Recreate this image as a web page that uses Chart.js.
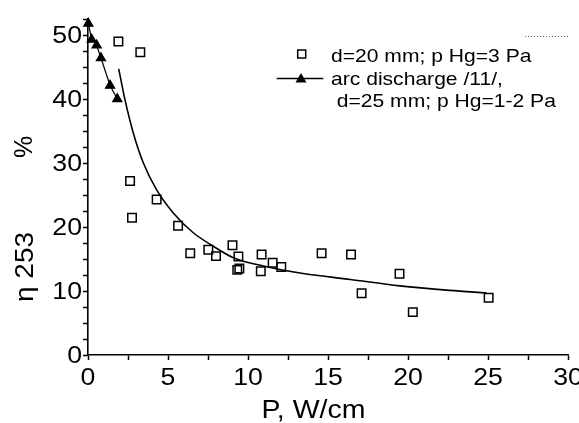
<!DOCTYPE html>
<html lang="en">
<head>
    <meta charset="UTF-8">
    <title>eta 253 vs P</title>
    <script src="https://cdn.jsdelivr.net/npm/chart.js"></script>
    <style>
        body {
            margin: 0;
            padding: 0;
            background-color: #ffffff;
        }
        canvas {
            display: block;
        }
    </style>
</head>
<body>
    <canvas id="grafico" width="579" height="423"></canvas>

    <script>
        // datos leidos del grafico
        // cuadrados: d=20 mm; p Hg=3 Pa
        const potenciaD20 = [1.9, 3.27, 2.63, 4.29, 2.75, 5.63, 6.39, 7.52, 8.0, 9.03, 9.4, 9.33, 9.46, 10.85, 10.8, 11.54, 12.08, 14.6, 16.44, 17.1, 19.47, 20.3, 25.04];
        const etaD20 = [49.0, 47.3, 27.2, 24.3, 21.45, 20.2, 15.9, 16.45, 15.45, 17.15, 15.4, 13.3, 13.5, 15.7, 13.1, 14.4, 13.75, 15.9, 15.7, 9.65, 12.7, 6.7, 8.95];

        // triangulos: arc discharge /11/, d=25 mm
        const potenciaArco = [0.02, 0.23, 0.54, 0.81, 1.38, 1.83];
        const etaArco = [51.8, 49.3, 48.4, 46.4, 42.1, 40.0];

        const potenciaCurva = [1.92, 2.31, 2.83, 3.46, 4.29, 5.33, 6.58, 7.83, 9.08, 11.17, 13.25, 16.4, 19.5, 22.6, 24.9];
        const etaCurva = [44.7, 39.9, 34.7, 30.0, 25.8, 22.2, 19.1, 17.0, 15.2, 13.8, 12.8, 11.8, 10.8, 10.1, 9.7];

        const etiquetasX = [0, 5, 10, 15, 20, 25, 30];
        const etiquetasY = [0, 10, 20, 30, 40, 50];

        const leyenda = ['d=20 mm; p Hg=3 Pa', 'arc discharge /11/,', 'd=25 mm; p Hg=1-2 Pa'];
        const tituloX = 'P, W/cm';
        const tituloY = 'η 253';
        const unidadY = '%';

        const fuente = "'Liberation Sans', Arial, sans-serif";

        function pares(xs, ys) {
            return xs.map((x, i) => ({ x: x, y: ys[i] }));
        }

        // texto un poco ensanchado, como en la figura original
        function textoAncho(c, txt, x, y, align, sx, rot) {
            c.save();
            c.translate(x, y);
            if (rot) c.rotate(rot);
            c.scale(sx, 1);
            c.textAlign = align;
            c.fillText(txt, 0, 0);
            c.restore();
        }

        const textos = {
            id: 'textos',
            afterDraw(chart) {
                const c = chart.ctx;
                const sx = chart.scales.x;
                const sy = chart.scales.y;
                c.save();
                c.fillStyle = '#000';

                // etiquetas de los ejes
                c.font = '23px ' + fuente;
                c.textBaseline = 'middle';
                etiquetasY.forEach(v => {
                    textoAncho(c, String(v), sy.right - 6, sy.getPixelForValue(v) + 2, 'right', 1.16);
                });
                etiquetasX.forEach(v => {
                    textoAncho(c, String(v), sx.getPixelForValue(v), sx.top + 24, 'center', 1.16);
                });

                // titulos
                c.textBaseline = 'alphabetic';
                c.font = '25px ' + fuente;
                textoAncho(c, tituloX, 313.5, 418, 'center', 1.14);
                textoAncho(c, tituloY, 33, 302, 'left', 1.12, -Math.PI / 2);
                textoAncho(c, unidadY, 32, 158, 'left', 1.0, -Math.PI / 2);

                // leyenda
                c.strokeStyle = '#000';
                c.lineWidth = 1.5;
                c.strokeRect(297.7, 50, 8, 8);
                c.beginPath();
                c.moveTo(276.7, 78.5);
                c.lineTo(323.3, 78.5);
                c.stroke();
                c.beginPath();
                c.moveTo(301, 73);
                c.lineTo(306.5, 82.5);
                c.lineTo(295.5, 82.5);
                c.closePath();
                c.fill();

                c.font = '18.5px ' + fuente;
                textoAncho(c, leyenda[0], 331, 62, 'left', 1.14);
                textoAncho(c, leyenda[1], 331, 84.7, 'left', 1.14);
                textoAncho(c, leyenda[2], 336.7, 107.3, 'left', 1.14);

                // linea punteada arriba a la derecha
                c.strokeStyle = '#666';
                c.lineWidth = 1;
                c.setLineDash([1, 2]);
                c.beginPath();
                c.moveTo(525, 36.5);
                c.lineTo(568, 36.5);
                c.stroke();
                c.restore();
            }
        };

        const ctx = document.getElementById('grafico').getContext('2d');

        new Chart(ctx, {
            type: 'scatter',
            data: {
                datasets: [
                    {
                        label: 'ajuste',
                        data: pares(potenciaCurva, etaCurva),
                        showLine: true,
                        pointRadius: 0,
                        borderColor: '#000',
                        borderWidth: 1.6,
                        cubicInterpolationMode: 'monotone',
                        clip: false
                    },
                    {
                        label: leyenda[1],
                        data: pares(potenciaArco, etaArco),
                        showLine: true,
                        pointStyle: 'triangle',
                        pointRadius: 5.3,
                        backgroundColor: '#000',
                        borderColor: '#000',
                        borderWidth: 1.2,
                        clip: false
                    },
                    {
                        label: leyenda[0],
                        data: pares(potenciaD20, etaD20),
                        showLine: false,
                        pointStyle: 'rect',
                        pointRadius: 6,
                        backgroundColor: 'rgba(0,0,0,0)',
                        borderColor: '#000',
                        borderWidth: 1.5,
                        clip: false
                    }
                ]
            },
            options: {
                responsive: false,
                animation: false,
                layout: {
                    padding: { left: 0, right: 11, top: 19, bottom: 0 }
                },
                plugins: {
                    legend: { display: false },
                    tooltip: { enabled: false }
                },
                scales: {
                    x: {
                        type: 'linear',
                        min: 0,
                        max: 30,
                        ticks: { stepSize: 2.5, display: false },
                        grid: { drawOnChartArea: false, drawTicks: true, tickLength: 5, tickColor: '#000', tickWidth: 1.5 },
                        border: { display: true, color: '#000', width: 1.6 },
                        afterFit(s) {
                            s.height = 68;
                            s.paddingLeft = 0;
                            s.paddingRight = 0;
                        }
                    },
                    y: {
                        type: 'linear',
                        min: 0,
                        max: 52.5,
                        ticks: { stepSize: 2.5, display: false },
                        grid: { drawOnChartArea: false, drawTicks: true, tickLength: 5, tickColor: '#000', tickWidth: 1.5 },
                        border: { display: true, color: '#000', width: 1.6 },
                        afterFit(s) {
                            s.width = 88;
                            s.paddingTop = 0;
                            s.paddingBottom = 0;
                        }
                    }
                }
            },
            plugins: [textos]
        });
    </script>
</body>
</html>
